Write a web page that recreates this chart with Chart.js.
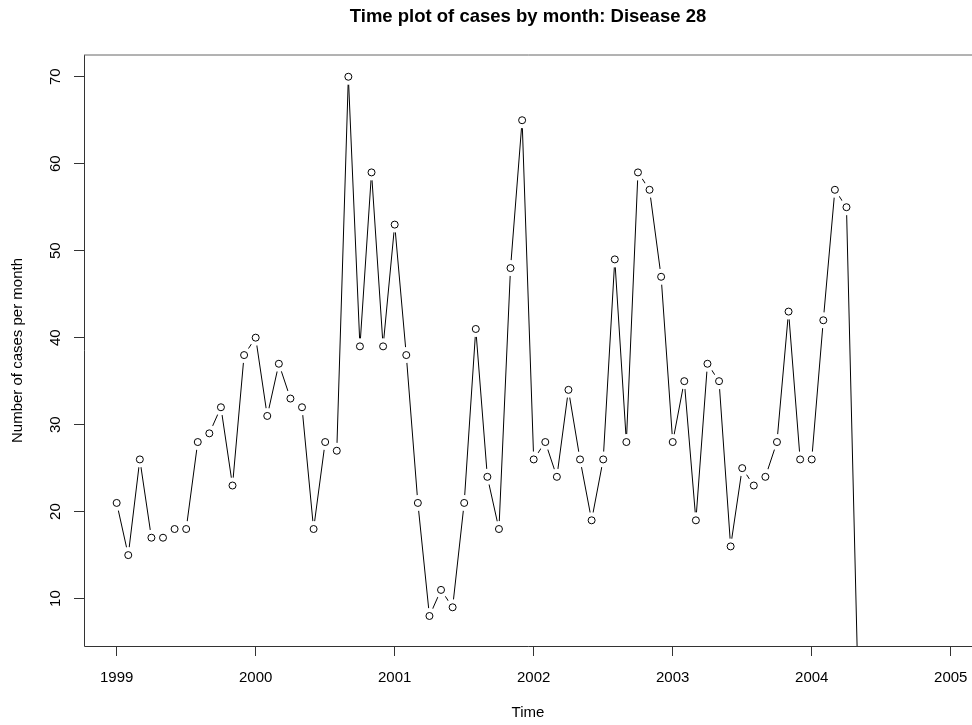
<!DOCTYPE html>
<html>
<head>
	<title>Time plot of cases by month: Disease 28</title>
	<script src="https://cdn.jsdelivr.net/npm/chart.js"></script>
	<style>
		body { margin: 0; background: #fff; }
		canvas { display: block; }
	</style>
</head>
<body>
	<canvas id="chart1" width="972" height="725"></canvas>
	<script>
		// monthly series, starts Jan 1999
		var startYear = 1999;
		var perYear = 12;
		var cases = [
			21, 15, 26, 17, 17, 18, 18, 28, 29, 32, 23, 38,
			40, 31, 37, 33, 32, 18, 28, 27, 70, 39, 59, 39,
			53, 38, 21, 8, 11, 9, 21, 41, 24, 18, 48, 65,
			26, 28, 24, 34, 26, 19, 26, 49, 28, 59, 57, 47,
			28, 35, 19, 37, 35, 16, 25, 23, 24, 28, 43, 26,
			26, 42, 57, 55, 0
		];
		var yearTicks = [1999, 2000, 2001, 2002, 2003, 2004, 2005];
		var caseTicks = [10, 20, 30, 40, 50, 60, 70];

		var points = cases.map(function(v, i) {
			return { x: startYear + i / perYear, y: v };
		});

		Chart.defaults.font.family = '"Liberation Sans", Arial, sans-serif';
		Chart.defaults.font.size = 15;
		Chart.defaults.color = '#000';

		// R style box round the plot region
		var frame = {
			id: 'frame',
			afterDatasetsDraw: function(chart) {
				var a = chart.chartArea;
				var ctx = chart.ctx;
				ctx.save();
				ctx.strokeStyle = '#333';
				ctx.lineWidth = 1;
				ctx.beginPath();
				ctx.moveTo(Math.round(a.left) + 0.5, Math.round(a.top));
				ctx.lineTo(Math.round(a.left) + 0.5, Math.round(a.bottom) + 0.5);
				ctx.lineTo(a.right + 2, Math.round(a.bottom) + 0.5);
				ctx.stroke();
				ctx.strokeStyle = '#666';
				ctx.beginPath();
				ctx.moveTo(Math.round(a.left), Math.round(a.top));
				ctx.lineTo(a.right + 2, Math.round(a.top));
				ctx.stroke();
				ctx.restore();
			}
		};

		var ctx = document.getElementById('chart1').getContext('2d');
		var myChart = new Chart(ctx, {
			type: 'scatter',
			data: {
				datasets: [
					{
						label: 'points',
						data: points,
						showLine: false,
						pointRadius: 3.5,
						pointBorderWidth: 1,
						pointBorderColor: '#000',
						pointBackgroundColor: '#fff',
						order: 0
					},
					{
						label: 'gaps',
						data: points,
						showLine: false,
						pointRadius: 8,
						pointBorderWidth: 0,
						pointBackgroundColor: '#fff',
						pointBorderColor: '#fff',
						order: 1
					},
					{
						label: 'line',
						data: points,
						showLine: true,
						borderColor: '#000',
						borderWidth: 1,
						pointRadius: 0,
						tension: 0,
						order: 2
					}
				]
			},
			options: {
				responsive: false,
				animation: false,
				devicePixelRatio: 1,
				layout: { padding: 0, autoPadding: false },
				plugins: {
					legend: { display: false },
					tooltip: { enabled: false },
					title: {
						display: true,
						fullSize: false,
						text: 'Time plot of cases by month: Disease 28',
						font: { size: 18.5, weight: 'bold' },
						padding: { top: 6, bottom: 26.8 }
					}
				},
				scales: {
					x: {
						type: 'linear',
						min: 1998.765,
						max: 2005.153,
						afterBuildTicks: function(scale) {
							scale.ticks = yearTicks.map(function(v) { return { value: v }; });
						},
						afterFit: function(scale) {
							scale.height = 79;
							scale.paddingLeft = 0;
							scale.paddingRight = 0;
						},
						grid: { drawOnChartArea: false, tickLength: 10, tickColor: '#333' },
						border: { display: false },
						ticks: {
							padding: 13,
							maxRotation: 0,
							autoSkip: false,
							callback: function(v) { return String(v); }
						},
						title: {
							display: true,
							text: 'Time',
							padding: { top: 0, bottom: 3 }
						}
					},
					y: {
						type: 'linear',
						min: 4.55,
						max: 72.5,
						afterBuildTicks: function(scale) {
							scale.ticks = caseTicks.map(function(v) { return { value: v }; });
						},
						afterFit: function(scale) {
							scale.width = 84;
							scale.paddingTop = 0;
							scale.paddingBottom = 0;
						},
						grid: { drawOnChartArea: false, tickLength: 10, tickColor: '#333' },
						border: { display: false },
						ticks: {
							padding: 10,
							minRotation: 90,
							maxRotation: 90,
							crossAlign: 'center',
							autoSkip: false,
							callback: function(v) { return String(v); }
						},
						title: {
							display: true,
							text: 'Number of cases per month',
							padding: { top: 9, bottom: 0 }
						}
					}
				}
			},
			plugins: [frame]
		});
	</script>
</body>
</html>
